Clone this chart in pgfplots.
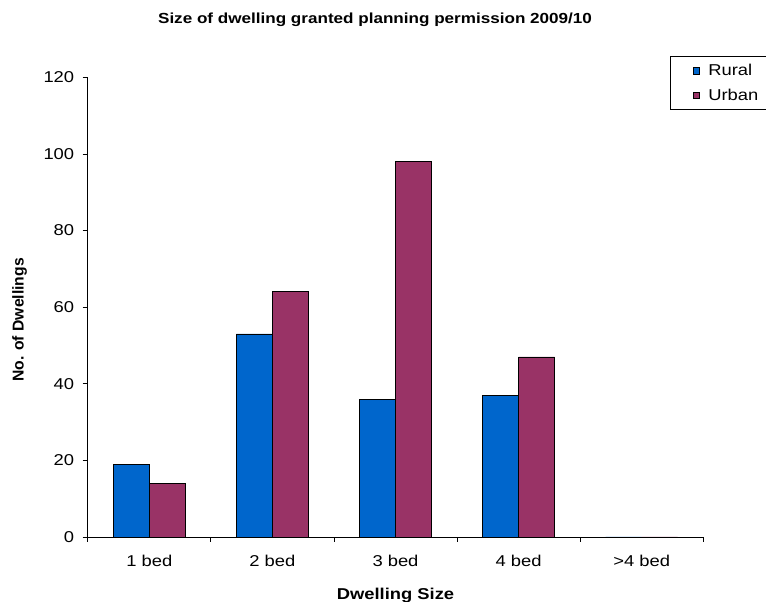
\documentclass[border=0pt]{standalone}
\usepackage{fontspec}
\setmainfont{Liberation Sans}[FakeStretch=1.17]
\newfontfamily\plainsans{Liberation Sans}
\usepackage{pgfplots}
\pgfplotsset{compat=1.18}

\definecolor{rural}{RGB}{0,102,204}
\definecolor{urban}{RGB}{153,51,102}

\newcommand{\tickfont}{\fontsize{15.7}{18}\selectfont}

\begin{document}
\begin{tikzpicture}[x=1pt,y=1pt]
\useasboundingbox (0,0) rectangle (766,602);
\begin{axis}[
  at={(87.7pt,65pt)}, anchor=south west,
  scale only axis, width=615.6pt, height=459.7pt,
  ybar=0pt, bar width=36pt,
  xmin=-0.5, xmax=4.5, ymin=0, ymax=120,
  axis x line*=bottom, axis y line*=left,
  axis line style={-, black, line width=0.8pt},
  tick style={black, line width=0.8pt},
  tick align=outside, major tick length=5pt,
  xtick={-0.5,0.5,1.5,2.5,3.5,4.5},
  x tick label as interval,
  xticklabels={1 bed,2 bed,3 bed,4 bed,>4 bed},
  ytick={0,20,...,120},
  xticklabel style={font=\tickfont, yshift=-9.5pt},
  yticklabel style={font=\tickfont, xshift=-5pt, /pgf/number format/assume math mode=true},
  title={Size of dwelling granted planning permission 2009/10},
  title style={font=\bfseries\fontsize{14.6}{17}\selectfont, at={(rel axis cs:0.4667,1.105)}, anchor=base},
  xlabel={Dwelling Size},
  xlabel style={font=\bfseries\fontsize{15.7}{18}\selectfont, at={(rel axis cs:0.5,-0.136)}, anchor=base},
  ylabel={No. of Dwellings},
  ylabel style={font=\plainsans\bfseries\fontsize{15.7}{18}\selectfont, at={(rel axis cs:-0.1108,0.472)}, anchor=center, rotate=0},
  legend style={at={(rel axis cs:0.9464,1.047)}, anchor=north west,
    draw=black, line width=0.8pt, font=\tickfont,
    inner xsep=22pt, inner ysep=6pt, row sep=8pt,
    /tikz/every odd column/.append style={column sep=6pt}},
  legend cell align=left,
]
\addplot[fill=rural, draw=black, line width=0.8pt,
  legend image code/.code={\draw[fill=rural,draw=black,line width=0.8pt] (0pt,-3.4pt) rectangle (6.8pt,3.4pt);}]
  coordinates {(0,19) (1,53) (2,36) (3,37) (4,0)};
\addplot[fill=urban, draw=black, line width=0.8pt,
  legend image code/.code={\draw[fill=urban,draw=black,line width=0.8pt] (0pt,-3.4pt) rectangle (6.8pt,3.4pt);}]
  coordinates {(0,14) (1,64) (2,98) (3,47) (4,0)};
\legend{Rural,Urban}
\end{axis}
\end{tikzpicture}
\end{document}
